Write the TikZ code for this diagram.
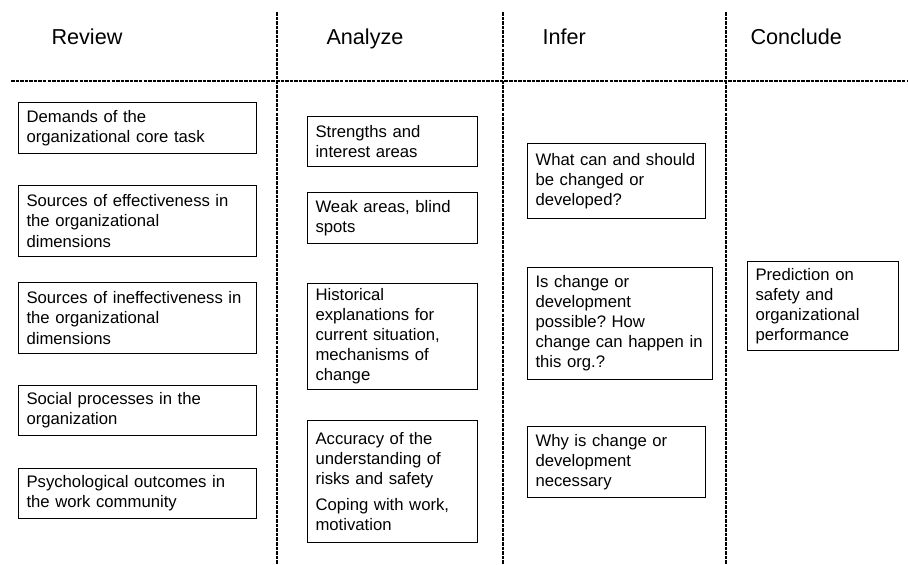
\documentclass[tikz,border=0pt]{standalone}
\usepackage{fontspec}
\setmainfont{Liberation Sans}
\frenchspacing
\begin{document}
\begin{tikzpicture}[line width=.6pt,
        head/.style={anchor=base west, inner sep=0pt, font=\fontsize{12.3}{14}\selectfont},
        box/.style={draw, anchor=north west, inner xsep=.16cm, inner ysep=0pt,
                    text width=#1, align=left, font=\fontsize{9.5}{11.4}\selectfont},
        grid/.style={dash pattern=on 2pt off .6pt}]
        \useasboundingbox (0,0) rectangle (18.16,-11.30);
        \draw[grid] (.22,-1.62) -- (18.16,-1.62);
        \foreach \x in {5.54, 10.06, 14.52}{
          \draw[grid] (\x,-.24) -- (\x,-11.30);
        }
        \node[head] (review)   at (1.02,-.90)  {Review};
        \node[head] (analyze)  at (6.52,-.90)  {Analyze};
        \node[head] (infer)    at (10.84,-.90) {Infer};
        \node[head] (conclude) at (15.00,-.90) {Conclude};
        \node[box=4.44cm, minimum height=1.02cm] (demands) at (.36,-2.04)
          {Demands of the\\ organizational core task};
        \node[box=4.44cm, minimum height=1.42cm] (effective) at (.36,-3.70)
          {Sources of effectiveness in\\ the organizational\\ dimensions};
        \node[box=4.44cm, minimum height=1.42cm] (ineffective) at (.36,-5.64)
          {Sources of ineffectiveness in\\ the organizational\\ dimensions};
        \node[box=4.44cm, minimum height=1.00cm] (social) at (.36,-7.70)
          {Social processes in the\\ organization};
        \node[box=4.44cm, minimum height=1.00cm] (psych) at (.36,-9.36)
          {Psychological outcomes in\\ the work community};
        \node[box=3.08cm, minimum height=1.00cm] (strengths) at (6.14,-2.32)
          {Strengths and\\ interest areas};
        \node[box=3.08cm, minimum height=1.02cm] (weak) at (6.14,-3.84)
          {Weak areas, blind\\ spots};
        \node[box=3.08cm, minimum height=2.12cm] (history) at (6.14,-5.66)
          {Historical\\ explanations for\\ current situation,\\ mechanisms of\\ change};
        \node[box=3.08cm, minimum height=2.44cm] (accuracy) at (6.14,-8.40)
          {Accuracy of the\\ understanding of\\ risks and safety\\[3pt] Coping with work,\\ motivation};
        \node[box=3.24cm, minimum height=1.50cm] (what) at (10.54,-2.86)
          {What can and should\\ be changed or\\ developed?};
        \node[box=3.38cm, minimum height=2.24cm] (possible) at (10.54,-5.34)
          {Is change or\\ development\\ possible? How\\ change can happen in\\ this org.?};
        \node[box=3.24cm, minimum height=1.42cm] (why) at (10.54,-8.52)
          {Why is change or\\ development\\ necessary};
        \node[box=2.70cm, minimum height=1.78cm] (prediction) at (14.94,-5.22)
          {Prediction on\\ safety and\\ organizational\\ performance};
      \end{tikzpicture}
\end{document}
